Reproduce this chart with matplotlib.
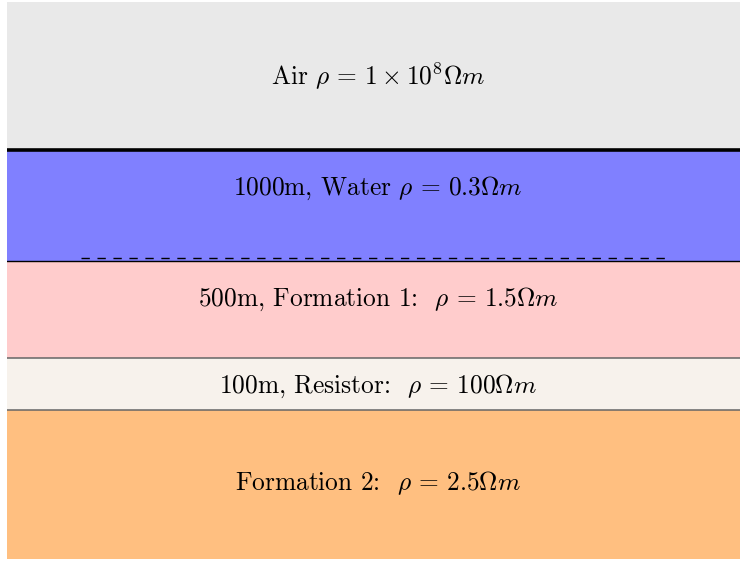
import matplotlib
matplotlib.use("Agg")
import matplotlib.pyplot as plt

plt.rcParams['font.family'] = ['cmr10', 'DejaVu Serif']
plt.rcParams['mathtext.fontset'] = 'cm'
plt.rcParams['axes.unicode_minus'] = False

# ===============================
# Layer data (top to bottom)
# ===============================
layer_names = ["Air", "1000m, Water", "500m, Formation 1:", "100m, Resistor:", "Formation 2:"]
layer_rho = [r"1 \times 10^8", "0.3", "1.5", "100", "2.5"]

# ===============================
# Layout (pixel-like depth units, top to bottom)
# ===============================
layer_top = [2, 150, 261, 358, 410]
layer_bot = [150, 261, 358, 410, 558.5]
label_y = [76, 188, 299, 386, 483]
layer_colors = ["#e9e9e9", "#8080ff", "#ffcccc", "#f7f2ec", "#ffbf80"]

W, H = 740, 561
fig = plt.figure(figsize=(W / 100, H / 100), dpi=100)
# axes runs a bit past the right edge, like the reference
x0, x1 = 7, 749
ax = fig.add_axes([x0 / W, (H - layer_bot[-1]) / H, (x1 - x0) / W, (layer_bot[-1] - layer_top[0]) / H])
ax.set_xlim(0, 1)
ax.set_ylim(layer_bot[-1], layer_top[0])
ax.axis("off")

for top, bot, col in zip(layer_top, layer_bot, layer_colors):
    ax.axhspan(top, bot, color=col, lw=0)

# interfaces
ax.axhline(layer_top[1], color="black", lw=2.6)
ax.axhline(layer_top[2], color="black", lw=1.0)
ax.axhline(layer_top[3], color="#666666", lw=1.1)
ax.axhline(layer_top[4], color="#666666", lw=1.1)
ax.plot([0.1, 0.89], [layer_top[2] - 3, layer_top[2] - 3], color="black", lw=1.0, dashes=(6, 5.5))

for name, rho, y in zip(layer_names, layer_rho, label_y):
    gap = r"\:\," if name.endswith(":") else ""
    label = name + " $" + gap + r"\rho\,=\," + rho + r"\Omega m$"
    ax.text(0.5, y, label, ha="center", va="center", fontsize=18.3)

fig.savefig("out.png", dpi=100)
